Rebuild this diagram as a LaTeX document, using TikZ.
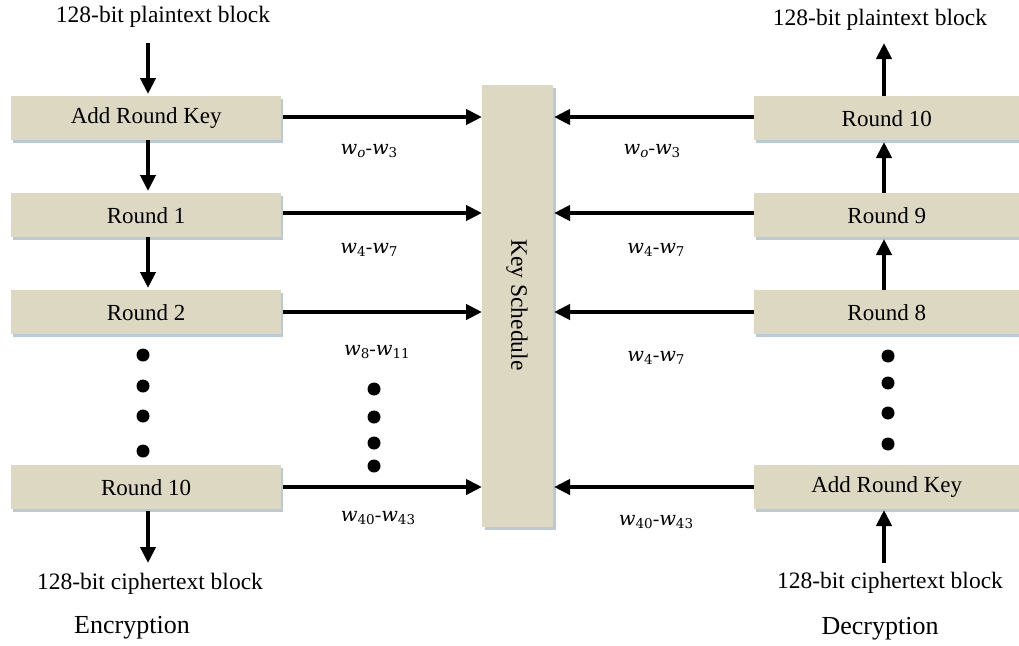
\documentclass[tikz,border=0pt]{standalone}
\usepackage{fontspec}
\setmainfont{Liberation Serif}
\newfontfamily\wfont{DejaVu Serif}
\usetikzlibrary{arrows.meta}
\definecolor{boxfill}{HTML}{DDD8C2}
\definecolor{shadowc}{HTML}{B9C9D6}
\newcommand{\wsub}[1]{{\wfont\itshape w}\raisebox{-0.3ex}{\wfont\fontsize{13.5}{15}\selectfont #1}}
\newcommand{\wsubo}{{\wfont\itshape w}\raisebox{-0.3ex}{\wfont\itshape\fontsize{13.5}{15}\selectfont o}}
\tikzset{
  x=1pt, y=-1pt,
  stagebox/.style={fill=boxfill, draw=none, minimum width=270pt, minimum height=44pt, inner sep=0pt,
     font=\fontsize{23}{26}\selectfont},
  flow/.style={line width=4pt, -{Triangle[length=16pt,width=15pt]}},
  lbl/.style={font=\fontsize{23.5}{26}\selectfont, inner sep=0pt},
  biglbl/.style={font=\fontsize{26}{28}\selectfont, inner sep=0pt},
  wlbl/.style={font=\fontsize{19.5}{22}\selectfont, inner sep=0pt},
  dot/.style={circle, fill=black, inner sep=0pt, minimum width=13pt, minimum height=11pt},
}
\begin{document}
\begin{tikzpicture}
\useasboundingbox (0,0) rectangle (1019,645);
\fill[white] (0,0) rectangle (1019,645);
% shadows
\foreach \yy in {96,193,290,465} {
  \fill[shadowc] (13,\yy+3) rectangle (283,\yy+47);
  \fill[shadowc] (756,\yy+3) rectangle (1019,\yy+47);
}
\fill[shadowc] (485,88) rectangle (556,530);
% left column
\node[stagebox, anchor=north west] (ark) at (11,96) {Add Round Key};
\node[stagebox, anchor=north west] (r1) at (11,193) {Round 1};
\node[stagebox, anchor=north west] (r2) at (11,290) {Round 2};
\node[stagebox, anchor=north west] (r10) at (11,465) {Round 10};
% right column
\node[stagebox, anchor=north west, minimum width=265pt] (d10) at (754,96) {Round 10};
\node[stagebox, anchor=north west, minimum width=265pt] (d9) at (754,193) {Round 9};
\node[stagebox, anchor=north west, minimum width=265pt] (d8) at (754,290) {Round 8};
\node[stagebox, anchor=north west, minimum width=265pt] (dark) at (754,465) {Add Round Key};
% key schedule
\node[fill=boxfill, anchor=north west, minimum width=71pt, minimum height=442pt, inner sep=0pt] (ks) at (482,85) {};
\node[lbl, rotate=-90] at (517,305) {Key Schedule};
% texts
\node[lbl] (pin) at (163,17) {128-bit plaintext block};
\node[lbl] (pout) at (880,20) {128-bit plaintext block};
\node[lbl] (cout) at (150,584) {128-bit ciphertext block};
\node[lbl] (cin) at (890,583) {128-bit ciphertext block};
\node[biglbl] at (132,628) {Encryption};
\node[biglbl] at (880,629) {Decryption};
% coordinates
\coordinate (a0) at (148,43);
\coordinate (a0e) at (148,94);
\coordinate (e0) at (148,511);
\coordinate (e0e) at (148,563);
\coordinate (b0) at (884,96);
\coordinate (b0e) at (884,43);
\coordinate (b1) at (884,563);
\coordinate (b1e) at (884,510);
% vertical arrows encryption
\draw[flow] (a0) -- (a0e);
\draw[flow] (148,140) -- (148,191);
\draw[flow] (148,237) -- (148,288);
\draw[flow] (e0) -- (e0e);
% vertical arrows decryption
\draw[flow] (b0) -- (b0e);
\draw[flow] (884,193) -- (884,142);
\draw[flow] (884,290) -- (884,239);
\draw[flow] (b1) -- (b1e);
% horizontal arrows
\foreach \yy in {117,213,312,487} {
  \draw[flow] (283,\yy) -- (482,\yy);
  \draw[flow] (754,\yy) -- (554,\yy);
}
% dots
\foreach \yy in {355,386,416,451} \node[dot] at (143,\yy) {};
\foreach \yy in {389,417,443,466} \node[dot] at (374,\yy) {};
\foreach \yy in {356,383,413,444} \node[dot] at (888,\yy) {};
% labels
\node[wlbl] at (369,151) {\wsubo-\wsub{3}};
\node[wlbl] at (369,250) {\wsub{4}-\wsub{7}};
\node[wlbl] at (377,352) {\wsub{8}-\wsub{11}};
\node[wlbl] at (378,518) {\wsub{40}-\wsub{43}};
\node[wlbl] at (652,151) {\wsubo-\wsub{3}};
\node[wlbl] at (656,250) {\wsub{4}-\wsub{7}};
\node[wlbl] at (656,358) {\wsub{4}-\wsub{7}};
\node[wlbl] at (656,522) {\wsub{40}-\wsub{43}};
\end{tikzpicture}
\end{document}
